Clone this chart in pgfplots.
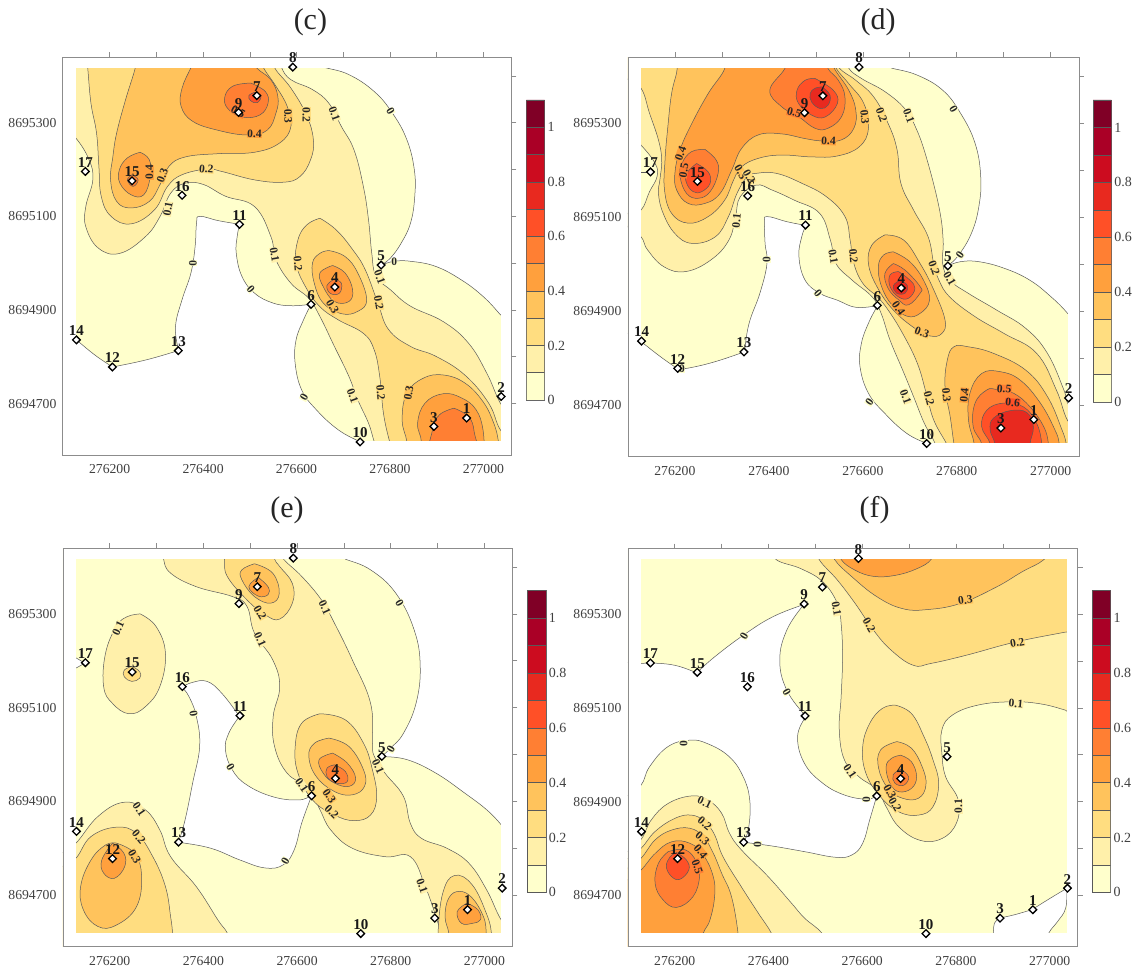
\documentclass[border=0pt]{standalone}
\usepackage{pgfplots}
\usepackage{pgfplotstable}
\usepackage{fontspec}
\setmainfont{Liberation Serif}
\pgfplotsset{compat=1.18}
\definecolor{c0}{HTML}{FFFFCC}\definecolor{c1}{HTML}{FFF0AA}\definecolor{c2}{HTML}{FFDD80}
\definecolor{c3}{HTML}{FFC35C}\definecolor{c4}{HTML}{FFA03D}\definecolor{c5}{HTML}{FF7F33}
\definecolor{c6}{HTML}{FF5027}\definecolor{c7}{HTML}{E8291F}\definecolor{c8}{HTML}{CC0C1F}
\definecolor{c9}{HTML}{AA0026}\definecolor{c10}{HTML}{800026}
\definecolor{cline}{HTML}{5A5A5A}\definecolor{fr}{HTML}{8C8C8C}\definecolor{txt}{HTML}{404040}
\pgfplotstableread{
x y n
276964 8694669 1
277038 8694715 2
276894 8694651 3
276682 8694949 4
276781 8694996 5
276631 8694912 6
276515 8695358 7
276592 8695419 8
276476 8695322 9
276736 8694618 10
276478 8695083 11
276206 8694778 12
276347 8694813 13
276129 8694836 14
276248 8695176 15
276355 8695145 16
276148 8695196 17
}\stations
\tikzset{clabel/.style={font=\fontsize{11.5}{12}\selectfont\bfseries,inner sep=.3pt,text=black!85}}
\pgfplotsset{
 panel/.style={scale only axis,anchor=south west,axis on top,
  xmin=276100,xmax=277060,ymin=8694590,ymax=8695440,scaled ticks=false,
  xtick={276200,276400,276600,276800,277000},xticklabels={276200,276400,276600,276800,277000},
  minor xtick={276300,276500,276700,276900},
  ytick={8694700,8694900,8695100,8695300},yticklabels={8694700,8694900,8695100,8695300},
  minor ytick={8694800,8695000,8695200,8695400},
  xtick pos=upper,ytick pos=upper,xticklabel pos=lower,yticklabel pos=lower,
  tick align=outside,major tick length=5pt,minor tick length=5pt,
  tick style={fr,line width=.6pt},axis line style={fr,line width=.8pt},
  tick label style={font=\fontsize{13.7}{15}\selectfont,text=txt},
  xticklabel style={yshift=-1pt},yticklabel style={xshift=2pt}},
 lev/.style={smooth,tension=.7,draw=cline,line width=.5pt,forget plot,mark=none},
}
\newcommand\lv[2]{\addplot[lev,fill=#1] coordinates {#2};}
\newcommand\cl[4]{\node[clabel,fill=c#4,rotate=#3] at (axis cs:#1,#2) {\ifnum#4=0 0\else 0.#4\fi};}
\newcommand\masks{%
 \addplot[fill=white,draw=none,forget plot,mark=none] coordinates {(276090,8694580)(276128.5,8694580)(276128.5,8695450)(276090,8695450)};
 \addplot[fill=white,draw=none,forget plot,mark=none] coordinates {(277036.5,8694580)(277070,8694580)(277070,8695450)(277036.5,8695450)};
 \addplot[fill=white,draw=none,forget plot,mark=none] coordinates {(276090,8695418)(277070,8695418)(277070,8695450)(276090,8695450)};
 \addplot[fill=white,draw=none,forget plot,mark=none] coordinates {(276090,8694580)(277070,8694580)(277070,8694619)(276090,8694619)};
}
\newcommand\stn{%
 \addplot[only marks,mark=square*,mark size=2.7pt,mark options={rotate=45,fill=white,draw=black,line width=1.3pt},
  forget plot,point meta=explicit symbolic,nodes near coords,
  every node near coord/.append style={font=\fontsize{15}{16}\selectfont\bfseries,anchor=south,inner sep=0pt,yshift=3.5pt,text=black!90}]
  table[x=x,y=y,meta=n] {\stations};
}
\newcommand\seg[3]{\addplot[fill=c#1,draw=black!65,line width=.5pt,forget plot,mark=none] coordinates {(0,#2)(1,#2)(1,#3)(0,#3)(0,#2)};}
\newcommand\cbar[4]{\begin{axis}[scale only axis,anchor=south west,at={(#1pt,#2pt)},width=#3pt,height=#4pt,
  xmin=0,xmax=1,ymin=0,ymax=1.1,xtick=\empty,ytick={0,0.2,0.4,0.6,0.8,1},yticklabels={0,0.2,0.4,0.6,0.8,1},
  yticklabel pos=right,major tick length=0pt,axis line style={black!60,line width=.6pt},
  tick label style={font=\fontsize{14}{15}\selectfont,text=txt},yticklabel style={xshift=-.5pt}]
 \seg{0}{0}{0.1}\seg{1}{0.1}{0.2}\seg{2}{0.2}{0.3}\seg{3}{0.3}{0.4}\seg{4}{0.4}{0.5}\seg{5}{0.5}{0.6}\seg{6}{0.6}{0.7}\seg{7}{0.7}{0.8}\seg{8}{0.8}{0.9}\seg{9}{0.9}{1.0}\seg{10}{1.0}{1.1}
\end{axis}}
\begin{document}
\begin{tikzpicture}[x=1pt,y=1pt]
\path[use as bounding box] (0,0) rectangle (1137,969);
\node[font=\fontsize{30}{32}\selectfont,text=black!85] at (310.4,947) {(c)};
\node[font=\fontsize{30}{32}\selectfont,text=black!85] at (878,947) {(d)};
\node[font=\fontsize{30}{32}\selectfont,text=black!85] at (287,459) {(e)};
\node[font=\fontsize{30}{32}\selectfont,text=black!85] at (874.5,459) {(f)};
%%%%%%%%%%%%%%%%%%%%%% (c)
\begin{axis}[panel,at={(62.9pt,514pt)},width=448.6pt,height=397.7pt]
\lv{c0}{(276095,8695445)(276642,8695424)(276661,8695418)(276712,8695403)(276766,8695367)(276805,8695321)(276836,8695264)(276852,8695200)(276853,8695143)(276844,8695086)(276824,8695043)(276801,8695011)(276781,8694996)(276781,8694996)(276809,8695004)(276844,8695004)(276898,8694993)(276953,8694964)(276999,8694929)(277036,8694890)(277069,8694850)(277065,8694585)(276743,8694585)(276736,8694618)(276736,8694618)(276689,8694644)(276642,8694687)(276611,8694729)(276597,8694786)(276599,8694836)(276615,8694879)(276631,8694912)(276631,8694912)(276588,8694909)(276549,8694915)(276510,8694936)(276483,8694972)(276471,8695021)(276473,8695057)(276478,8695083)(276478,8695083)(276432,8695091)(276393,8695100)(276386,8695086)(276383,8695036)(276374,8694979)(276355,8694922)(276341,8694865)(276347,8694813)(276347,8694813)(276277,8694793)(276206,8694778)(276206,8694778)(276168,8694804)(276129,8694836)(276129,8694836)(276098,8694850)}
\lv{c1}{(276095,8695445)(276564,8695445)(276568,8695418)(276588,8695392)(276634,8695371)(276669,8695342)(276696,8695292)(276723,8695242)(276743,8695164)(276754,8695093)(276761,8695021)(276770,8694972)(276801,8694943)(276844,8694908)(276914,8694875)(276968,8694829)(277007,8694765)(277036,8694701)(277069,8694651)(277065,8694585)(276778,8694585)(276766,8694619)(276754,8694658)(276731,8694708)(276712,8694758)(276681,8694822)(276650,8694886)(276626,8694925)(276588,8694957)(276556,8695007)(276545,8695057)(276510,8695121)(276448,8695143)(276401,8695168)(276362,8695171)(276331,8695150)(276308,8695100)(276277,8695057)(276222,8695021)(276176,8695032)(276149,8695078)(276149,8695121)(276164,8695178)(276156,8695221)(276128,8695267)(276098,8695292)}
\lv{c2}{(276552,8695445)(276553,8695418)(276588,8695374)(276621,8695317)(276636,8695264)(276630,8695221)(276607,8695185)(276572,8695173)(276510,8695178)(276440,8695196)(276409,8695201)(276355,8695189)(276324,8695164)(276296,8695114)(276246,8695084)(276203,8695100)(276182,8695143)(276177,8695207)(276172,8695278)(276160,8695342)(276153,8695418)(276149,8695445)}
\lv{c2}{(276650,8695096)(276685,8695071)(276720,8695029)(276747,8694986)(276774,8694915)(276797,8694858)(276844,8694822)(276898,8694801)(276960,8694761)(277011,8694701)(277036,8694644)(277069,8694608)(277065,8694585)(276809,8694585)(276799,8694619)(276786,8694679)(276778,8694758)(276766,8694815)(276743,8694850)(276689,8694879)(276650,8694907)(276619,8694950)(276599,8695000)(276603,8695050)(276622,8695082)(276650,8695096)}
\lv{c3}{(276257,8695445)(276255,8695418)(276234,8695349)(276215,8695278)(276207,8695228)(276202,8695178)(276215,8695132)(276246,8695118)(276285,8695132)(276308,8695168)(276327,8695207)(276362,8695227)(276432,8695234)(276510,8695237)(276564,8695257)(276588,8695292)(276580,8695335)(276556,8695378)(276529,8695418)(276521,8695445)}
\lv{c3}{(276669,8695027)(276704,8695014)(276731,8694979)(276750,8694922)(276731,8694897)(276696,8694892)(276657,8694915)(276638,8694957)(276634,8695000)(276650,8695021)(276669,8695027)}
\lv{c3}{(276836,8694585)(276836,8694619)(276826,8694665)(276836,8694722)(276871,8694754)(276914,8694761)(276960,8694744)(276999,8694704)(277022,8694658)(277032,8694619)(277034,8694585)}
\lv{c4}{(276386,8695445)(276374,8695418)(276355,8695374)(276353,8695335)(276378,8695303)(276432,8695284)(276494,8695274)(276537,8695284)(276556,8695321)(276560,8695356)(276545,8695392)(276514,8695418)(276502,8695445)}
\lv{c4}{(276265,8695237)(276285,8695221)(276287,8695185)(276273,8695146)(276246,8695146)(276222,8695171)(276221,8695200)(276238,8695225)(276265,8695237)}
\lv{c4}{(276677,8694995)(276704,8694979)(276720,8694943)(276712,8694918)(276681,8694918)(276657,8694950)(276650,8694979)(276677,8694995)}
\lv{c4}{(276859,8694585)(276867,8694619)(276859,8694658)(276875,8694701)(276914,8694721)(276953,8694712)(276984,8694687)(276999,8694644)(277002,8694585)}
\lv{c5}{(276502,8695385)(276533,8695367)(276539,8695342)(276522,8695317)(276486,8695312)(276455,8695328)(276446,8695353)(276463,8695378)(276502,8695385)}
\lv{c5}{(276937,8694690)(276968,8694672)(276980,8694640)(276980,8694585)(276891,8694585)(276891,8694644)(276906,8694676)(276937,8694690)}
\lv{c5}{(276248,8695189)(276261,8695178)(276250,8695164)(276238,8695178)(276248,8695189)}
\lv{c5}{(276681,8694966)(276696,8694957)(276692,8694936)(276673,8694935)(276665,8694952)(276681,8694966)}
\lv{c6}{(276510,8695365)(276524,8695358)(276516,8695343)(276502,8695347)(276498,8695358)(276510,8695365)}
\masks
\cl{276801}{8695324}{-60}{0}\cl{276681}{8695319}{-70}{1}\cl{276621}{8695317}{-90}{2}\cl{276582}{8695314}{-88}{3}\cl{276510}{8695277}{-2}{4}\cl{276475}{8695324}{-30}{5}\cl{276313}{8695187}{70}{3}\cl{276285}{8695194}{90}{4}\cl{276407}{8695201}{-5}{2}\cl{276325}{8695116}{80}{1}\cl{276378}{8695000}{-90}{0}\cl{276553}{8695018}{-80}{1}\cl{276603}{8694999}{-85}{2}\cl{276502}{8694945}{-50}{0}\cl{276677}{8694907}{-60}{3}\cl{276809}{8695002}{0}{0}\cl{276778}{8694970}{-70}{1}\cl{276776}{8694915}{-80}{2}\cl{276616}{8694713}{60}{0}\cl{276720}{8694717}{-70}{1}\cl{276780}{8694724}{-85}{2}\cl{276840}{8694722}{80}{3}
\stn
\end{axis}
\cbar{526.4}{569}{18.1}{300}
%%%%%%%%%%%%%%%%%%%%%% (d)
\begin{axis}[panel,at={(627.9pt,512.3pt)},width=451pt,height=399.4pt]
\lv{c0}{(276095,8695445)(276639,8695423)(276661,8695417)(276716,8695402)(276770,8695370)(276808,8695321)(276839,8695257)(276851,8695186)(276847,8695122)(276831,8695065)(276804,8695019)(276781,8694996)(276781,8694996)(276808,8695005)(276847,8695005)(276901,8694991)(276955,8694966)(277001,8694930)(277036,8694895)(277070,8694852)(277065,8694585)(276743,8694585)(276736,8694618)(276736,8694618)(276693,8694640)(276647,8694682)(276612,8694725)(276594,8694782)(276597,8694831)(276612,8694874)(276631,8694911)(276631,8694911)(276585,8694908)(276546,8694923)(276508,8694938)(276477,8694966)(276464,8695016)(276470,8695058)(276479,8695082)(276479,8695082)(276439,8695090)(276396,8695101)(276391,8695087)(276392,8695044)(276396,8695001)(276381,8694938)(276358,8694874)(276348,8694813)(276348,8694813)(276285,8694792)(276231,8694779)(276206,8694777)(276206,8694777)(276169,8694803)(276128,8694835)(276128,8694835)(276100,8694852)}
\lv{c1}{(276095,8695445)(276566,8695445)(276570,8695417)(276597,8695395)(276647,8695367)(276689,8695331)(276712,8695292)(276735,8695228)(276762,8695122)(276771,8695051)(276770,8695001)(276785,8694966)(276824,8694938)(276885,8694902)(276947,8694863)(276993,8694810)(277028,8694732)(277036,8694704)(277070,8694647)(277065,8694585)(276762,8694585)(276754,8694618)(276731,8694661)(276708,8694718)(276685,8694774)(276658,8694838)(276639,8694895)(276620,8694930)(276577,8694966)(276543,8695001)(276531,8695051)(276508,8695108)(276454,8695136)(276408,8695157)(276373,8695168)(276339,8695143)(276329,8695101)(276315,8695051)(276277,8695009)(276223,8694984)(276177,8694994)(276142,8695030)(276128,8695058)(276100,8695079)(276100,8695108)(276128,8695115)(276146,8695154)(276162,8695186)(276158,8695214)(276128,8695253)(276100,8695278)}
\lv{c2}{(276095,8695445)(276095,8695399)(276128,8695374)(276146,8695321)(276165,8695264)(276172,8695221)(276168,8695179)(276165,8695150)(276175,8695108)(276200,8695065)(276236,8695044)(276286,8695058)(276314,8695101)(276332,8695150)(276354,8695186)(276373,8695193)(276416,8695193)(276470,8695172)(276523,8695143)(276562,8695101)(276573,8695051)(276581,8695001)(276600,8694959)(276631,8694930)(276654,8694902)(276685,8694852)(276716,8694789)(276735,8694725)(276751,8694668)(276778,8694618)(276793,8694585)(277065,8694585)(277070,8694626)(277036,8694667)(277012,8694732)(276970,8694810)(276901,8694852)(276839,8694888)(276785,8694930)(276762,8694966)(276751,8695001)(276739,8695058)(276708,8695115)(276681,8695172)(276673,8695243)(276654,8695299)(276623,8695356)(276585,8695391)(276550,8695417)(276539,8695445)}
\lv{c3}{(276200,8695445)(276205,8695416)(276193,8695363)(276185,8695292)(276179,8695221)(276178,8695157)(276193,8695108)(276228,8695087)(276271,8695101)(276306,8695136)(276325,8695179)(276342,8695207)(276378,8695225)(276427,8695232)(276491,8695228)(276546,8695230)(276593,8695250)(276612,8695289)(276602,8695342)(276570,8695384)(276543,8695417)(276535,8695445)}
\lv{c3}{(276647,8695062)(276687,8695051)(276722,8695001)(276751,8694945)(276775,8694881)(276768,8694852)(276743,8694847)(276711,8694863)(276665,8694902)(276630,8694952)(276612,8695001)(276619,8695040)(276647,8695062)}
\lv{c3}{(276801,8694585)(276794,8694618)(276786,8694675)(276775,8694739)(276780,8694796)(276794,8694824)(276824,8694824)(276878,8694810)(276947,8694774)(276993,8694718)(277024,8694647)(277033,8694618)(277039,8694585)}
\lv{c4}{(276300,8695445)(276306,8695416)(276271,8695363)(276236,8695299)(276211,8695243)(276200,8695193)(276204,8695157)(276228,8695129)(276264,8695129)(276296,8695150)(276321,8695200)(276342,8695246)(276378,8695275)(276427,8695277)(276477,8695267)(276513,8695262)(276554,8695264)(276581,8695289)(276585,8695328)(276570,8695370)(276539,8695417)(276531,8695445)}
\lv{c4}{(276665,8695026)(276700,8695005)(276729,8694966)(276742,8694923)(276722,8694895)(276694,8694889)(276662,8694913)(276640,8694952)(276633,8694994)(276644,8695019)(276665,8695026)}
\lv{c4}{(276837,8694585)(276837,8694618)(276825,8694668)(276828,8694725)(276853,8694767)(276892,8694771)(276935,8694753)(276978,8694704)(277009,8694647)(277018,8694618)(277020,8694585)}
\lv{c5}{(276439,8695445)(276434,8695416)(276402,8695370)(276427,8695335)(276463,8695314)(276498,8695289)(276526,8695289)(276555,8695314)(276562,8695356)(276548,8695391)(276526,8695416)(276520,8695445)}
\lv{c5}{(276264,8695244)(276288,8695221)(276292,8695193)(276275,8695154)(276250,8695140)(276225,8695150)(276211,8695186)(276215,8695214)(276235,8695239)(276264,8695244)}
\lv{c5}{(276665,8695001)(276690,8694987)(276722,8694952)(276722,8694938)(276697,8694913)(276676,8694924)(276654,8694948)(276647,8694980)(276665,8695001)}
\lv{c5}{(276853,8694585)(276853,8694618)(276835,8694654)(276839,8694704)(276864,8694732)(276885,8694733)(276921,8694725)(276956,8694696)(276985,8694654)(276995,8694618)(276995,8694585)}
\lv{c6}{(276498,8695395)(276537,8695370)(276546,8695342)(276520,8695313)(276491,8695317)(276463,8695342)(276460,8695370)(276477,8695391)(276498,8695395)}
\lv{c6}{(276246,8695214)(276271,8695196)(276275,8695172)(276257,8695154)(276239,8695154)(276225,8695172)(276225,8695193)(276246,8695214)}
\lv{c6}{(276676,8694984)(276700,8694966)(276711,8694948)(276697,8694927)(276676,8694930)(276658,8694952)(276658,8694977)(276676,8694984)}
\lv{c6}{(276871,8694585)(276871,8694618)(276853,8694654)(276864,8694689)(276899,8694704)(276942,8694696)(276970,8694661)(276981,8694618)(276981,8694585)}
\lv{c7}{(276513,8695377)(276530,8695360)(276526,8695338)(276509,8695331)(276491,8695345)(276488,8695363)(276498,8695374)(276513,8695377)}
\lv{c7}{(276680,8694966)(276695,8694954)(276690,8694938)(276672,8694938)(276665,8694954)(276680,8694966)}
\lv{c7}{(276881,8694585)(276881,8694618)(276871,8694647)(276878,8694672)(276914,8694688)(276949,8694684)(276963,8694654)(276956,8694618)(276956,8694585)}
\addplot[cline,line width=.5pt,forget plot,mark=none] coordinates {(276128,8695195)(276148,8695195)};
\masks
\cl{276793}{8695329}{-60}{0}\cl{276698}{8695316}{-70}{1}\cl{276640}{8695317}{-70}{2}\cl{276604}{8695313}{-85}{3}\cl{276527}{8695262}{-3}{4}\cl{276454}{8695322}{-15}{5}\cl{276212}{8695235}{70}{4}\cl{276219}{8695199}{80}{5}\cl{276340}{8695196}{-60}{3}\cl{276358}{8695186}{-60}{2}\cl{276331}{8695092}{85}{1}\cl{276395}{8695010}{90}{0}\cl{276537}{8695016}{-80}{1}\cl{276580}{8695017}{-85}{2}\cl{276505}{8694938}{-50}{0}\cl{276676}{8694906}{-55}{4}\cl{276726}{8694855}{-20}{3}\cl{276752}{8694991}{-70}{2}\cl{276785}{8694969}{-60}{1}\cl{276807}{8695019}{55}{0}\cl{276614}{8694706}{55}{0}\cl{276691}{8694718}{-70}{1}\cl{276741}{8694714}{-75}{2}\cl{276778}{8694721}{-85}{3}\cl{276816}{8694721}{85}{4}\cl{276901}{8694734}{-5}{5}\cl{276919}{8694705}{-5}{6}\cl{276215}{8694778}{0}{0}
\stn
\end{axis}
\cbar{1093}{567}{18.4}{302}
%%%%%%%%%%%%%%%%%%%%%% (e)
\begin{axis}[panel,at={(62.9pt,22.3pt)},width=449.6pt,height=398.4pt]
\lv{c0}{(276095,8695445)(276683,8695426)(276703,8695417)(276757,8695394)(276811,8695344)(276850,8695266)(276863,8695188)(276854,8695109)(276827,8695045)(276800,8695014)(276781,8694996)(276781,8694996)(276835,8694989)(276897,8694960)(276959,8694917)(277005,8694882)(277036,8694850)(277067,8694811)(277065,8694585)(276095,8694585)}
\lv{white}{(276354,8695144)(276354,8695144)(276377,8695154)(276408,8695156)(276439,8695131)(276477,8695082)(276477,8695082)(276454,8695045)(276447,8695010)(276462,8694967)(276493,8694935)(276548,8694910)(276602,8694903)(276631,8694912)(276631,8694912)(276610,8694854)(276594,8694797)(276571,8694765)(276532,8694758)(276478,8694775)(276416,8694800)(276347,8694813)(276347,8694813)(276361,8694861)(276377,8694939)(276392,8695017)(276385,8695081)(276369,8695124)(276354,8695144)(276354,8695144)}
\addplot[draw=cline,fill=white,line width=.5pt,forget plot,mark=none] coordinates {(276120,8695211)(276147,8695195)(276120,8695180)};
\lv{c1}{(276315,8695445)(276315,8695417)(276330,8695387)(276385,8695358)(276462,8695337)(276493,8695316)(276509,8695259)(276548,8695202)(276563,8695145)(276549,8695081)(276552,8695017)(276579,8694960)(276625,8694928)(276649,8694882)(276672,8694839)(276718,8694800)(276788,8694782)(276842,8694782)(276874,8694718)(276901,8694640)(276906,8694619)(276908,8694585)(277065,8694585)(277067,8694612)(277036,8694647)(277005,8694711)(276967,8694768)(276920,8694800)(276866,8694821)(276842,8694853)(276827,8694911)(276788,8694960)(276765,8694996)(276761,8695024)(276757,8695109)(276718,8695202)(276680,8695280)(276652,8695330)(276610,8695380)(276571,8695417)(276555,8695445)}
\lv{c1}{(276265,8695300)(276299,8695273)(276319,8695216)(276307,8695145)(276276,8695102)(276241,8695087)(276206,8695109)(276187,8695145)(276191,8695216)(276214,8695273)(276237,8695294)(276265,8695300)}
\lv{c1}{(276098,8694790)(276128,8694811)(276175,8694868)(276229,8694898)(276276,8694882)(276307,8694839)(276330,8694782)(276385,8694718)(276431,8694647)(276451,8694619)(276462,8694585)(276095,8694585)}
\lv{c2}{(276443,8695445)(276445,8695417)(276451,8695380)(276493,8695330)(276532,8695298)(276563,8695289)(276590,8695323)(276590,8695365)(276563,8695401)(276552,8695417)(276548,8695445)}
\lv{c2}{(276649,8695087)(276703,8695074)(276742,8695024)(276761,8694967)(276770,8694910)(276757,8694871)(276722,8694859)(276680,8694871)(276633,8694903)(276602,8694960)(276596,8695017)(276610,8695067)(276649,8695087)}
\lv{c2}{(276247,8695188)(276264,8695177)(276264,8695163)(276247,8695156)(276231,8695166)(276231,8695180)(276247,8695188)}
\lv{c2}{(276098,8694761)(276128,8694779)(276160,8694825)(276214,8694845)(276257,8694832)(276292,8694782)(276319,8694718)(276330,8694654)(276334,8694619)(276334,8694585)(276095,8694585)}
\lv{c2}{(276905,8694585)(276901,8694619)(276911,8694704)(276936,8694742)(276974,8694722)(277005,8694659)(277015,8694619)(277015,8694585)}
\lv{c3}{(276509,8695407)(276548,8695387)(276562,8695344)(276544,8695323)(276509,8695337)(276482,8695373)(276482,8695394)(276509,8695407)}
\lv{c3}{(276668,8695035)(276711,8695017)(276742,8694967)(276744,8694932)(276718,8694914)(276680,8694921)(276641,8694953)(276625,8694996)(276637,8695024)(276668,8695035)}
\lv{c3}{(276214,8694811)(276253,8694789)(276268,8694740)(276257,8694675)(276214,8694636)(276175,8694633)(276144,8694668)(276138,8694719)(276160,8694775)(276191,8694807)(276214,8694811)}
\lv{c3}{(276924,8694585)(276924,8694619)(276916,8694654)(276924,8694694)(276947,8694708)(276974,8694694)(276998,8694654)(277004,8694619)(277004,8694585)}
\lv{c4}{(276517,8695378)(276538,8695358)(276538,8695341)(276517,8695338)(276497,8695358)(276517,8695378)}
\lv{c4}{(276676,8695003)(276707,8694982)(276725,8694950)(276711,8694932)(276680,8694939)(276656,8694960)(276647,8694989)(276676,8695003)}
\lv{c4}{(276206,8694811)(276230,8694790)(276232,8694761)(276210,8694736)(276187,8694747)(276183,8694775)(276206,8694811)}
\lv{c4}{(276963,8694683)(276986,8694669)(276992,8694648)(276975,8694640)(276951,8694640)(276942,8694665)(276963,8694683)}
\lv{c5}{(276680,8694978)(276703,8694964)(276707,8694942)(276683,8694939)(276664,8694953)(276664,8694971)(276680,8694978)}
\masks
\cl{276819}{8695323}{-60}{0}\cl{276659}{8695314}{-65}{1}\cl{276521}{8695245}{-65}{1}\cl{276521}{8695303}{-60}{2}\cl{276218}{8695269}{65}{1}\cl{276379}{8695088}{-80}{0}\cl{276458}{8694974}{-60}{0}\cl{276800}{8695011}{60}{0}\cl{276773}{8694974}{-65}{1}\cl{276610}{8694935}{-55}{1}\cl{276669}{8694912}{-55}{3}\cl{276674}{8694878}{-45}{2}\cl{276263}{8694883}{-55}{1}\cl{276262}{8694824}{-50}{2}\cl{276253}{8694782}{-60}{3}\cl{276575}{8694773}{60}{0}\cl{276867}{8694720}{-70}{1}
\stn
\end{axis}
\cbar{527}{76.7}{18.8}{301.6}
%%%%%%%%%%%%%%%%%%%%%% (f)
\begin{axis}[panel,at={(627.9pt,22.3pt)},width=449.9pt,height=398pt]
\addplot[fill=c0,draw=none,forget plot,mark=none] coordinates {(276095,8695445)(277065,8695445)(277065,8694585)(276095,8694585)};
\lv{white}{(276095,8695198)(276128,8695195)(276148,8695196)(276200,8695191)(276247,8695175)(276247,8695175)(276285,8695209)(276346,8695255)(276408,8695294)(276475,8695321)(276475,8695321)(276439,8695266)(276424,8695202)(276439,8695138)(276479,8695082)(276479,8695082)(276462,8695038)(276477,8694981)(276516,8694939)(276562,8694914)(276609,8694905)(276631,8694912)(276631,8694912)(276616,8694861)(276601,8694811)(276578,8694786)(276543,8694781)(276477,8694793)(276408,8694805)(276348,8694813)(276348,8694813)(276358,8694846)(276360,8694903)(276346,8694953)(276316,8694996)(276269,8695024)(276231,8695031)(276185,8695017)(276146,8694974)(276128,8694935)(276095,8694910)}
\lv{white}{(276880,8694585)(276880,8694619)(276882,8694640)(276892,8694651)(276892,8694651)(276924,8694658)(276962,8694669)(276962,8694669)(277002,8694694)(277037,8694715)(277037,8694715)(277034,8694672)(277017,8694644)(276998,8694619)(276986,8694585)}
\lv{c1}{(276412,8695445)(276416,8695417)(276470,8695397)(276516,8695369)(276547,8695323)(276555,8695280)(276558,8695209)(276555,8695124)(276551,8695053)(276562,8694989)(276593,8694953)(276632,8694925)(276651,8694889)(276678,8694846)(276724,8694817)(276770,8694821)(276801,8694854)(276805,8694903)(276778,8694953)(276770,8695003)(276770,8695053)(276793,8695085)(276847,8695106)(276917,8695113)(276978,8695109)(277034,8695095)(277071,8695081)(277065,8695445)}
\lv{c1}{(276095,8694790)(276128,8694819)(276150,8694861)(276186,8694896)(276236,8694912)(276271,8694903)(276300,8694875)(276317,8694832)(276342,8694797)(276399,8694740)(276449,8694683)(276477,8694651)(276514,8694619)(276528,8694585)(276095,8694585)}
\lv{c2}{(276504,8695445)(276508,8695417)(276547,8695373)(276585,8695323)(276624,8695266)(276662,8695223)(276709,8695191)(276747,8695195)(276824,8695213)(276924,8695240)(277034,8695262)(277071,8695269)(277065,8695445)}
\lv{c2}{(276670,8695106)(276705,8695088)(276732,8695038)(276751,8694989)(276763,8694939)(276751,8694889)(276720,8694871)(276678,8694878)(276639,8694910)(276608,8694960)(276601,8695017)(276616,8695067)(276643,8695099)(276670,8695106)}
\lv{c2}{(276095,8694775)(276128,8694800)(276158,8694836)(276200,8694864)(276236,8694871)(276264,8694857)(276285,8694829)(276303,8694782)(276342,8694718)(276378,8694662)(276406,8694619)(276416,8694585)(276095,8694585)}
\lv{c3}{(276535,8695445)(276541,8695417)(276578,8695380)(276632,8695337)(276686,8695312)(276739,8695310)(276809,8695323)(276886,8695358)(276940,8695390)(276988,8695417)(277002,8695445)}
\lv{c3}{(276674,8695028)(276705,8695014)(276728,8694974)(276736,8694935)(276720,8694907)(276686,8694907)(276655,8694928)(276635,8694971)(276639,8695010)(276674,8695028)}
\lv{c3}{(276095,8694755)(276128,8694779)(276158,8694818)(276193,8694839)(276232,8694843)(276261,8694825)(276282,8694790)(276300,8694747)(276321,8694697)(276335,8694619)(276335,8694585)(276095,8694585)}
\lv{c4}{(276551,8695445)(276555,8695417)(276585,8695394)(276624,8695381)(276670,8695383)(276716,8695397)(276747,8695417)(276755,8695445)}
\lv{c4}{(276682,8694999)(276705,8694985)(276716,8694953)(276705,8694928)(276678,8694921)(276659,8694939)(276651,8694974)(276662,8694992)(276682,8694999)}
\lv{c4}{(276095,8694730)(276128,8694754)(276158,8694789)(276193,8694814)(276232,8694811)(276261,8694786)(276282,8694740)(276285,8694697)(276275,8694647)(276261,8694619)(276255,8694585)(276095,8694585)}
\lv{c5}{(276186,8694793)(276222,8694797)(276246,8694772)(276253,8694740)(276239,8694697)(276204,8694674)(276175,8694690)(276158,8694725)(276165,8694768)(276186,8694793)}
\lv{c5}{(276682,8694969)(276699,8694953)(276689,8694935)(276670,8694939)(276666,8694957)(276682,8694969)}
\lv{c6}{(276204,8694791)(276225,8694775)(276230,8694754)(276211,8694734)(276193,8694740)(276182,8694761)(276190,8694782)(276204,8694791)}
\masks
\cl{276820}{8695330}{8}{3}\cl{276615}{8695277}{-60}{2}\cl{276545}{8695312}{-80}{1}\cl{276931}{8695239}{10}{2}\cl{276928}{8695109}{-5}{1}\cl{276348}{8695254}{60}{0}\cl{276439}{8695134}{-60}{0}\cl{276219}{8695024}{90}{0}\cl{276574}{8694965}{-55}{1}\cl{276609}{8694905}{90}{0}\cl{276659}{8694921}{-60}{3}\cl{276670}{8694893}{-60}{2}\cl{276805}{8694890}{90}{1}\cl{276377}{8694809}{90}{0}\cl{276264}{8694898}{-25}{1}\cl{276264}{8694853}{-40}{2}\cl{276259}{8694821}{-40}{3}\cl{276255}{8694793}{-50}{4}\cl{276248}{8694761}{-70}{5}
\stn
\end{axis}
\cbar{1092}{76.7}{18.7}{301.6}
\end{tikzpicture}
\end{document}
